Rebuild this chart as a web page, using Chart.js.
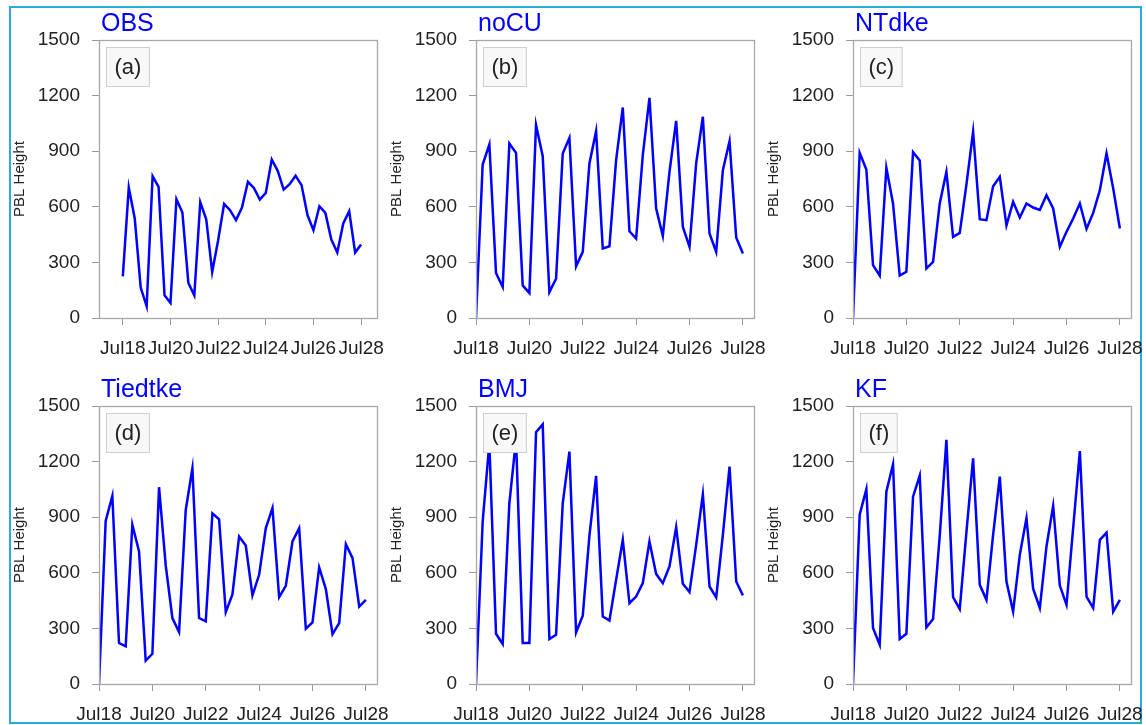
<!DOCTYPE html>
<html>
<head>
<meta charset="utf-8">
<title>PBL Height</title>
<script src="https://cdn.jsdelivr.net/npm/chart.js@4.4.1/dist/chart.umd.min.js"></script>
<style>
	html, body { margin: 0; padding: 0; background: #fff; overflow: hidden; }
	#page { position: relative; width: 1146px; height: 725px; }
	#frame { position: absolute; left: 9px; top: 6px; width: 1133px; height: 718px; border: 2px solid #29abe2; box-sizing: border-box; }
	canvas { position: absolute; }
</style>
</head>
<body>
<div id="page">
	<div id="frame"></div>
</div>
<script>
// hours since Jul18 00:00, one sample every 6 hours
const hours = [0, 6, 12, 18, 24, 30, 36, 42, 48, 54, 60, 66, 72, 78, 84, 90, 96, 102, 108, 114, 120, 126, 132, 138, 144, 150, 156, 162, 168, 174, 180, 186, 192, 198, 204, 210, 216, 222, 228, 234, 240];
const tickHours = [0, 48, 96, 144, 192, 240];
const tickLabels = ['Jul18', 'Jul20', 'Jul22', 'Jul24', 'Jul26', 'Jul28'];
const yTicks = [0, 300, 600, 900, 1200, 1500];

const obs = [225, 704, 537, 164, 63, 765, 708, 122, 81, 641, 569, 189, 122, 625, 533, 248, 420, 616, 582, 528, 596, 735, 702, 639, 675, 855, 794, 693, 722, 767, 717, 555, 474, 603, 567, 423, 353, 510, 576, 353, 396];
const noCU = [0, 828, 936, 243, 167, 942, 891, 176, 135, 1041, 873, 140, 212, 888, 972, 279, 357, 834, 1008, 375, 387, 852, 1136, 468, 429, 879, 1188, 591, 443, 789, 1064, 492, 384, 834, 1086, 456, 357, 798, 954, 434, 348];
const ntdke = [0, 891, 801, 285, 229, 810, 618, 229, 249, 895, 850, 267, 303, 618, 789, 438, 459, 720, 1005, 533, 528, 711, 762, 500, 627, 542, 618, 596, 583, 663, 591, 384, 465, 537, 618, 481, 567, 690, 888, 699, 483];
const tiedtke = [0, 880, 1015, 221, 203, 859, 715, 126, 163, 1062, 640, 356, 280, 939, 1164, 356, 338, 921, 889, 388, 483, 796, 747, 478, 589, 841, 949, 469, 530, 769, 841, 298, 332, 629, 512, 269, 329, 754, 679, 418, 454];
const bmj = [0, 877, 1300, 271, 216, 975, 1320, 221, 221, 1358, 1401, 243, 266, 975, 1254, 278, 368, 800, 1123, 364, 343, 562, 778, 436, 472, 544, 769, 594, 544, 634, 846, 541, 496, 751, 1024, 526, 467, 805, 1173, 553, 478];
const kf = [0, 913, 1051, 302, 212, 1038, 1186, 243, 271, 1011, 1124, 305, 350, 800, 1317, 469, 404, 820, 1218, 535, 454, 805, 1119, 553, 391, 697, 895, 514, 410, 742, 961, 531, 427, 843, 1257, 472, 410, 778, 817, 391, 454];

const FONT = '"Liberation Sans", Arial, Helvetica, sans-serif';
const BLUE = '#0000ff';

const panels = [
	{ title: 'OBS', tag: '(a)', values: obs, left: 4, top: 0, xMin: -24, xMax: 256 },
	{ title: 'noCU', tag: '(b)', values: noCU, left: 381, top: 0, xMin: 0, xMax: 250 },
	{ title: 'NTdke', tag: '(c)', values: ntdke, left: 758, top: 0, xMin: 0, xMax: 250 },
	{ title: 'Tiedtke', tag: '(d)', values: tiedtke, left: 4, top: 366, xMin: 0, xMax: 250 },
	{ title: 'BMJ', tag: '(e)', values: bmj, left: 381, top: 366, xMin: 0, xMax: 250 },
	{ title: 'KF', tag: '(f)', values: kf, left: 758, top: 366, xMin: 0, xMax: 250 },
];

// plot box, panel tag box and blue title
const panelDecor = {
	id: 'panelDecor',
	afterDatasetsDraw(chart, args, opts) {
		const { ctx, chartArea: a } = chart;
		ctx.save();
		ctx.lineWidth = 1.3;
		ctx.strokeStyle = '#a8a8a8';
		ctx.strokeRect(Math.round(a.left) + 0.5, Math.round(a.top) + 0.5, Math.round(a.right - a.left), Math.round(a.bottom - a.top));
		ctx.font = `22px ${FONT}`;
		const w = ctx.measureText(opts.tag).width + 16;
		const bx = Math.round(a.left) + 7.5;
		const by = Math.round(a.top) + 7.5;
		ctx.fillStyle = '#f8f8f8';
		ctx.fillRect(bx, by, w, 39);
		ctx.strokeStyle = '#cfcfcf';
		ctx.lineWidth = 1;
		ctx.strokeRect(bx, by, w, 39);
		ctx.fillStyle = '#222';
		ctx.textAlign = 'center';
		ctx.textBaseline = 'middle';
		ctx.fillText(opts.tag, bx + w / 2, by + 20);
		ctx.restore();
	},
	afterDraw(chart, args, opts) {
		const { ctx, chartArea: a } = chart;
		ctx.save();
		ctx.font = `25px ${FONT}`;
		ctx.fillStyle = BLUE;
		ctx.textAlign = 'left';
		ctx.textBaseline = 'alphabetic';
		ctx.fillText(opts.title, a.left + 2, a.top - 9);
		ctx.restore();
	},
};

function createPanel(p) {
	const canvas = document.createElement('canvas');
	canvas.width = 388;
	canvas.height = 358;
	canvas.style.left = p.left + 'px';
	canvas.style.top = p.top + 'px';
	document.getElementById('page').appendChild(canvas);

	new Chart(canvas.getContext('2d'), {
		type: 'line',
		data: {
			datasets: [
				{
					data: hours.map((h, i) => ({ x: h, y: p.values[i] })),
					borderColor: BLUE,
					borderWidth: 2.5,
					pointRadius: 0,
					tension: 0,
					fill: false,
				},
			],
		},
		options: {
			responsive: false,
			animation: false,
			layout: { padding: { top: 40, right: 15, left: 0, bottom: 0 } },
			plugins: {
				legend: { display: false },
				tooltip: { enabled: false },
				panelDecor: { title: p.title, tag: p.tag },
			},
			scales: {
				x: {
					type: 'linear',
					min: p.xMin,
					max: p.xMax,
					afterFit: (s) => {
						s.height = 40;
						// keep the plot box fixed, labels may hang past it
						s.paddingLeft = 0;
						s.paddingRight = 0;
					},
					afterBuildTicks: (s) => {
						s.ticks = tickHours.map((v) => ({ value: v }));
					},
					ticks: {
						callback: (v) => tickLabels[tickHours.indexOf(v)],
						autoSkip: false,
						maxRotation: 0,
						padding: 12,
						color: '#222',
						font: { family: FONT, size: 19 },
					},
					grid: { drawOnChartArea: false, tickLength: 7, color: '#999' },
					border: { display: false },
				},
				y: {
					min: 0,
					max: 1500,
					afterFit: (s) => {
						s.width = 95;
						s.paddingTop = 0;
						s.paddingBottom = 0;
					},
					afterBuildTicks: (s) => {
						s.ticks = yTicks.map((v) => ({ value: v }));
					},
					ticks: {
						callback: (v) => String(v),
						padding: 12,
						color: '#222',
						font: { family: FONT, size: 19 },
					},
					grid: { drawOnChartArea: false, tickLength: 7, color: '#999' },
					border: { display: false },
					title: {
						display: true,
						text: 'PBL Height',
						color: '#222',
						font: { family: FONT, size: 15 },
						padding: { top: 7, bottom: 0 },
					},
				},
			},
		},
		plugins: [panelDecor],
	});
}

panels.forEach(createPanel);
</script>
</body>
</html>
